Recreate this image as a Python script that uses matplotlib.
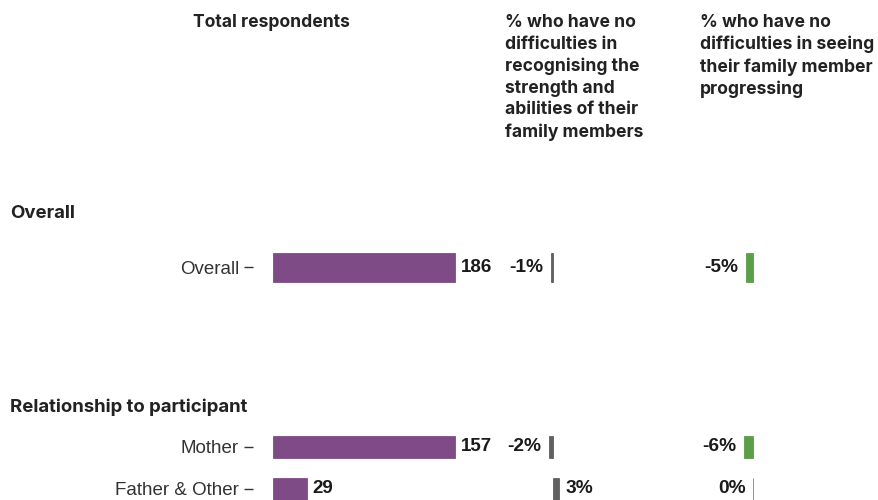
import matplotlib.pyplot as plt

# data
overall_cats = ["Overall"]
overall_total = [186]
overall_strength = [-1]
overall_progress = [-5]

rel_cats = ["Mother", "Father & Other"]
rel_total = [157, 29]
rel_strength = [-2, 3]
rel_progress = [-6, 0]

group_titles = ["Overall", "Relationship to participant"]
col_headers = [
    "Total respondents",
    "% who have no\ndifficulties in\nrecognising the\nstrength and\nabilities of their\nfamily members",
    "% who have no\ndifficulties in seeing\ntheir family member\nprogressing",
]

PURPLE = "#7f4b87"
GREY = "#606060"
GREEN = "#5a9e48"

W, H = 879, 500
fig = plt.figure(figsize=(W / 100, H / 100), dpi=100)

LABEL_FONT = ["Liberation Sans", "DejaVu Sans"]
HEAD_FONT = ["Inter", "DejaVu Sans"]


def add_ax(x0, x1, y_top, y_bottom):
    # axes placed in pixel units of the figure
    ax = fig.add_axes([x0 / W, 1 - y_bottom / H, (x1 - x0) / W, (y_bottom - y_top) / H])
    for s in ax.spines.values():
        s.set_visible(False)
    ax.set_xticks([])
    ax.set_yticks([])
    ax.patch.set_alpha(0)
    return ax


def draw_group(cats, total, strength, progress, y_top, y_bottom, ylim, bar_h):
    ypos = list(range(len(cats)))

    # column 1: total respondents
    ax1 = add_ax(253, 464, y_top, y_bottom)
    m = max(total)
    ax1.barh(ypos, total, height=bar_h, color=PURPLE, edgecolor=PURPLE, linewidth=0.6)
    ax1.set_xlim(-0.11 * m, 1.05 * m)
    ax1.set_ylim(*ylim)
    ax1.set_yticks(ypos)
    ax1.set_yticklabels(cats, fontsize=13.5, color="#333333", family=LABEL_FONT)
    ax1.tick_params(axis="y", length=6.5, width=1, color="#333333", pad=3.6)
    for y, v in zip(ypos, total):
        ax1.annotate(str(v), (v, y), xytext=(6, 0), textcoords="offset pixels",
                     ha="left", va="center", fontsize=13.5, fontweight="bold",
                     family=LABEL_FONT, color="#1a1a1a")

    # columns 2 and 3: percentage changes
    for vals, color, x0, x1, xlim in [
        (strength, GREY, 500, 690, (-26.5, 68.5)),
        (progress, GREEN, 695, 879, (-39, 83.7)),
    ]:
        ax = add_ax(x0, x1, y_top, y_bottom)
        ax.barh(ypos, vals, height=bar_h, color=color, edgecolor=color, linewidth=0.6)
        ax.set_xlim(*xlim)
        ax.set_ylim(*ylim)
        for y, v in zip(ypos, vals):
            if v > 0:
                off, ha = 7, "left"
            else:
                off, ha = -8, "right"
            ax.annotate(f"{v}%", (v, y), xytext=(off, 0), textcoords="offset pixels",
                        ha=ha, va="center", fontsize=13.8, fontweight="bold",
                        family=LABEL_FONT, color="#1a1a1a")


draw_group(overall_cats, overall_total, overall_strength, overall_progress,
           232, 302, (0.5, -0.5), 29 / 70)
draw_group(rel_cats, rel_total, rel_strength, rel_progress,
           426, 500, (1.262, -0.5), 22 / 42)

# column headers
for txt, x in zip(col_headers, [193, 505, 700]):
    fig.text(x / W, 1 - 14 / H, txt, ha="left", va="top", fontsize=12.6,
             fontweight="bold", family=HEAD_FONT, color="#222222", linespacing=1.36)

# group titles
for txt, y in zip(group_titles, [214, 407]):
    fig.text(10 / W, 1 - y / H, txt, ha="left", va="center", fontsize=13.4,
             fontweight="bold", family=HEAD_FONT, color="#222222")

fig.savefig("out.png", dpi=100)
